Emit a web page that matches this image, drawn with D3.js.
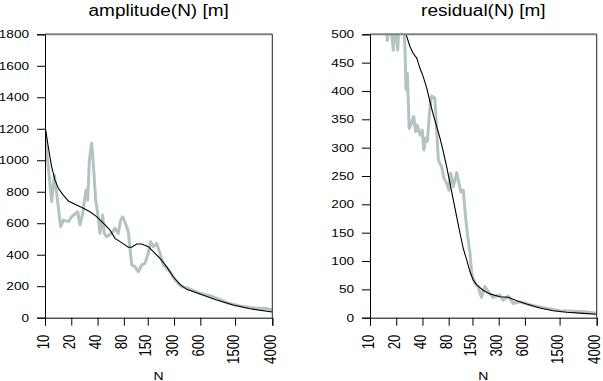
<!DOCTYPE html>
<html><head><meta charset="utf-8">
<script src="https://cdn.jsdelivr.net/npm/d3@7"></script>
<style>body{margin:0;background:#fff}svg{display:block}text{font-family:"Liberation Sans",Arial,Helvetica,sans-serif;fill:#000}</style>
</head><body>
<svg id="c" width="603" height="381"></svg>
<script>
// ---- data ----
const xTicks = [10, 20, 40, 80, 150, 300, 600, 1500, 4000];
const ampTicks = [0, 200, 400, 600, 800, 1000, 1200, 1400, 1600, 1800];
const resTicks = [0, 50, 100, 150, 200, 250, 300, 350, 400, 450, 500];

const ampSmoothN = [10,10.9,11.9,13,14.2,16.2,18.5,23,27.5,32.7,39,46.5,55.5,63.3,75.4,89.9,98,112,128,152,174,207,247,294,351,418,595,923,1431,2221,4000];
const ampSmooth  = [1218,1086,959,875,822,779,741,716,695,673,642,600,557,504,477,447,447,468,468,451,419,377,324,260,212,180,151,112,81,57,36];

const ampRawN = [10,10.9,11.9,12.8,13.6,15.1,16.2,18.5,20.2,23.7,25.2,27,29.5,30.8,32.2,34.2,35.7,38,40.1,42.6,45.8,47.7,50.9,58,63.3,69,73.5,77.5,84.6,89.9,98.3,107,117,128,139.5,152,162,174,190,207,226,247,270,308,367,419,595,844,1202,1707,2423,3450,4000];
const ampRaw  = [1180,960,737,906,790,578,620,610,641,673,589,663,811,748,1000,1108,981,748,663,536,652,536,514,536,568,536,620,641,589,546,335,324,292,335,345,409,483,451,472,409,335,314,292,239,197,191,155,133,95,74,62,57,49];

const resSmoothN = [10,13,16,20,23,25.9,28.8,31.4,34.4,37.5,40.9,44.8,48.8,53.3,58.3,63.6,69.4,75.9,82.8,90.4,98.9,107.9,117.7,128.8,140.5,153,168,200,238,310,387,483,628,893,1269,1809,2806,4000];
const resSmooth  = [900,780,680,600,540,500,478,466,458,440,425,405,381,358,337,317,293,266,237,208,178,149,122,102,81,66.5,58,48,42,37,36,30,24,17,12.4,9.5,7.7,6];

const resRawN = [10,12,14,15.3,15.8,17,18.5,19.7,20.8,21.7,23.5,25.2,25.9,26.8,28.2,29.9,31.7,33.4,34.7,37.5,39.8,41.5,43.7,45.6,48.8,51,55.5,58.3,60.9,66.5,70.6,75.9,80.6,84.3,90.4,98.9,105,110.5,117.7,125,131.5,140.5,146.8,160,174,190,208,227,258,309,337,387,440,526,749,1110,1516,2152,3055,4000];
const resRaw  = [900,750,600,520,489,530,472,520,472,530,540,478,402,431,334,343,355,328,340,322,331,296,317,311,372,391,387,331,278,266,246,237,225,255,231,256,237,222,225,178,146,114,78,61,55,36,55,46,36,40,31,38,25,28,21,16,12.4,11.3,10,7.8];

// ---- drawing ----
const svg = d3.select("#c");
const SY = 0.82; // vertical text squish
const yTopPx = 34.3, yBotPx = 317.7;

function panel(id, x0, x1, title, yMax, yTicks, rawN, raw, smN, sm) {
  const g = svg.append("g");
  const x = d3.scaleLog().domain([10, 4000]).range([x0, x1]);
  const y = d3.scaleLinear().domain([0, yMax]).range([yBotPx, yTopPx]);

  g.append("clipPath").attr("id", id).append("rect")
    .attr("x", x0).attr("y", yTopPx).attr("width", x1 - x0).attr("height", yBotPx - yTopPx);

  const line = d3.line().x(d => x(d[0])).y(d => y(d[1]));
  g.append("path").attr("clip-path", `url(#${id})`)
    .attr("d", line(rawN.map((n, i) => [n, raw[i]])))
    .attr("fill", "none").attr("stroke", "#b2c3c4").attr("stroke-width", 3)
    .attr("stroke-linejoin", "round");
  g.append("path").attr("clip-path", `url(#${id})`)
    .attr("d", line(smN.map((n, i) => [n, sm[i]])))
    .attr("fill", "none").attr("stroke", "#000").attr("stroke-width", 1.1);

  g.append("line").attr("x1", x0).attr("x2", x1).attr("y1", yTopPx).attr("y2", yTopPx)
    .attr("stroke", "#808080").attr("stroke-width", 2);
  g.append("line").attr("x1", x1).attr("x2", x1).attr("y1", yTopPx).attr("y2", yBotPx)
    .attr("stroke", "#222").attr("stroke-width", 1);

  const ya = g.append("g").attr("transform", `translate(${x0},0)`)
    .call(d3.axisLeft(y).tickValues(yTicks).tickSize(8).tickFormat(d3.format("d")));
  ya.select(".domain").attr("stroke", "#000");
  ya.selectAll("text").remove();
  yTicks.forEach(t => {
    g.append("text").attr("text-anchor", "end")
      .attr("transform", `translate(${x0 - 16},${y(t)}) scale(1,${SY})`)
      .attr("dy", "0.36em").style("font-size", "13.6px").text(t);
  });

  const xa = g.append("g").attr("transform", `translate(0,${yBotPx})`)
    .call(d3.axisBottom(x).tickValues(xTicks).tickSize(8).tickFormat(d3.format("d")));
  xa.select(".domain").attr("stroke", "#000");
  xa.selectAll("text").remove();
  xTicks.forEach(t => {
    g.append("text").attr("text-anchor", "end")
      .attr("transform", `translate(${x(t)},${yBotPx + 17}) scale(1,${SY}) rotate(-90)`)
      .attr("dy", "0.22em").style("font-size", "16px").text(t);
  });

  g.append("text").attr("text-anchor", "middle")
    .attr("transform", `translate(${(x0 + x1) / 2},379.5) scale(1,${SY})`)
    .style("font-size", "14px").text("N");

  g.append("text").attr("text-anchor", "middle")
    .attr("transform", `translate(${(x0 + x1) / 2},16) scale(1,${SY})`)
    .style("font-size", "19px").text(title);
}

panel("cA", 45, 272.3, "amplitude(N) [m]", 1800, ampTicks, ampRawN, ampRaw, ampSmoothN, ampSmooth);
panel("cB", 370, 596.7, "residual(N) [m]", 500, resTicks, resRawN, resRaw, resSmoothN, resSmooth);
</script>
</body></html>
